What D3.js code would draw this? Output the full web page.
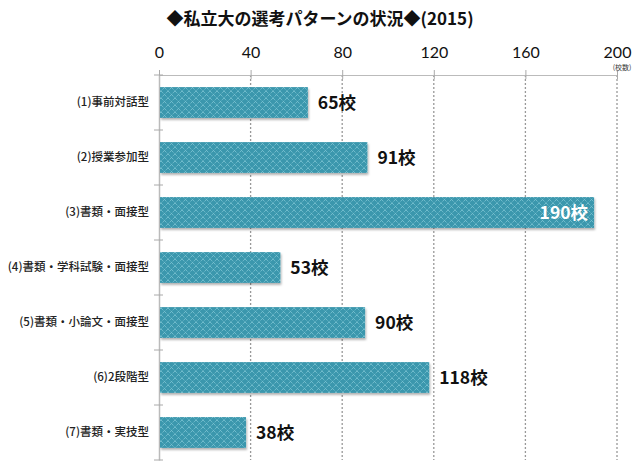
<!DOCTYPE html>
<html><head><meta charset="utf-8">
<script src="https://cdn.jsdelivr.net/npm/d3@7"></script>
<style>body{margin:0;background:#fff}svg{display:block}</style>
</head><body>
<script>
const categories = ["(1)事前対話型","(2)授業参加型","(3)書類・面接型","(4)書類・学科試験・面接型","(5)書類・小論文・面接型","(6)2段階型","(7)書類・実技型"];
const values = [65, 91, 190, 53, 90, 118, 38];
const ticks = [0, 40, 80, 120, 160, 200];
const unit = "校";
const title = "◆私立大の選考パターンの状況◆(2015)";
const axisUnit = "(校数)";

const W = 640, H = 469;
const svg = d3.select("body").append("svg").attr("width", W).attr("height", H);
const defs = svg.append("defs");
const pat = defs.append("pattern").attr("id","hatch").attr("patternUnits","userSpaceOnUse")
  .attr("width",7).attr("height",7);
pat.append("rect").attr("width",7).attr("height",7).attr("fill","#3b97ad");
pat.append("path").attr("d","M0,0L7,7M7,0L0,7").attr("stroke","#86cbd9").attr("stroke-width",1).attr("stroke-dasharray","1,1");
const flt = defs.append("filter").attr("id","sh").attr("x","-5%").attr("y","-20%").attr("width","110%").attr("height","150%");
flt.append("feDropShadow").attr("dx",1).attr("dy",2).attr("stdDeviation",1).attr("flood-color","#000").attr("flood-opacity",0.3);

const x = d3.scaleLinear().domain([0,200]).range([159,617]);
const y = d3.scaleBand().domain(categories).range([75,460]).paddingInner(0.44).paddingOuter(0.22);

svg.append("text").attr("x",320).attr("y",25).attr("text-anchor","middle")
  .attr("font-family","'Noto Sans CJK JP'").attr("font-weight","bold").attr("font-size",17).attr("fill","#111").text(title);

// grid
svg.append("g").selectAll("line").data(ticks.slice(1)).join("line")
  .attr("x1",d=>x(d)).attr("x2",d=>x(d)).attr("y1",75).attr("y2",460)
  .attr("stroke","#999").attr("stroke-width",1.3).attr("stroke-dasharray","2,2");

// top axis
const xa = svg.append("g").attr("transform","translate(0,75)")
  .call(d3.axisTop(x).tickValues(ticks).tickSize(5).tickSizeOuter(0).tickPadding(12));
xa.select(".domain").attr("stroke","#bbb");
xa.selectAll(".tick line").attr("stroke","#aaa").attr("y2",-5).attr("y1",4);
xa.selectAll(".tick text").attr("font-family","Lato, 'Noto Sans'").attr("font-size",16).attr("fill","#111");
svg.append("text").attr("x",622).attr("y",70).attr("text-anchor","middle").attr("font-family","'Noto Sans CJK JP'")
  .attr("font-size",7).attr("fill","#333").text(axisUnit);

// left axis
const ya = svg.append("g").attr("transform","translate(159,0)")
  .call(d3.axisLeft(y).tickSize(0).tickPadding(10));
ya.select(".domain").attr("stroke","#bbb").attr("stroke-width",1.5);
ya.selectAll(".tick text").attr("font-family","'Noto Sans CJK JP'").attr("font-weight",500).attr("font-size",11.5).attr("fill","#222");
const edges = d3.range(categories.length+1).map(i => 75 + i*(385/categories.length));
svg.append("g").selectAll("line").data(edges).join("line")
  .attr("x1",154).attr("x2",163).attr("y1",d=>d).attr("y2",d=>d).attr("stroke","#aaa");

// bars
svg.append("g").selectAll("rect").data(values).join("rect")
  .attr("x",x(0)+1).attr("y",(d,i)=>y(categories[i])).attr("width",d=>x(d)-x(0)-1).attr("height",y.bandwidth())
  .attr("fill","url(#hatch)").attr("filter","url(#sh)");

svg.append("g").selectAll("text").data(values).join("text")
  .attr("x",d=> d>170 ? x(d)-6 : x(d)+10)
  .attr("y",(d,i)=>y(categories[i])+y.bandwidth()/2+6)
  .attr("text-anchor",d=> d>170 ? "end":"start")
  .attr("font-family","'Noto Sans CJK JP'").attr("font-weight","bold").attr("font-size",17.5)
  .attr("fill",d=> d>170 ? "#fff" : "#111")
  .text(d=>d+unit);
</script>
</body></html>
